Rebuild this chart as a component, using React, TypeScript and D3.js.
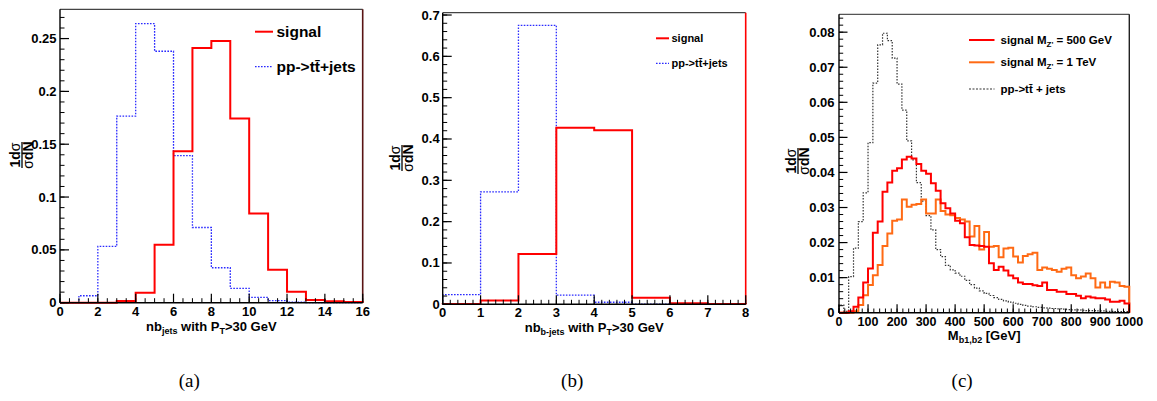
import React from "react";
import * as d3 from "d3";

// ---------- DATA ----------
// (a) number of jets with pT>30 GeV, bins of width 1 from 0 to 16
const jetsSignal = [0, 0, 0, 0.0016, 0.0095, 0.0548, 0.1434, 0.2411, 0.2477, 0.1743, 0.0845, 0.0312, 0.0104, 0.0025, 0.0013, 0.0006];
const jetsTtbar = [0, 0.0066, 0.0533, 0.1765, 0.2641, 0.238, 0.1393, 0.0712, 0.0331, 0.0136, 0.005, 0.0019, 0.0006, 0, 0, 0];
// (b) number of b-jets, bins of width 1 from 0 to 8
const bjetsSignal = [0.0005, 0.009, 0.122, 0.427, 0.421, 0.016, 0.0024, 0.001];
const bjetsTtbar = [0.0234, 0.272, 0.675, 0.022, 0.005, 0.0005, 0.0003, 0.0002];
// (c) M_b1b2, 60 bins from 0 to 1000 GeV
const massSignal500 = [
  0, 0, 0.0004, 0.0017, 0.0043, 0.0086, 0.0126, 0.0228, 0.026, 0.0345,
  0.0371, 0.0405, 0.0412, 0.0437, 0.0445, 0.044, 0.0424, 0.0405, 0.0396, 0.0369,
  0.0348, 0.0312, 0.0298, 0.0283, 0.0262, 0.0255, 0.0215, 0.0193, 0.0192, 0.019,
  0.0188, 0.0141, 0.0122, 0.0131, 0.012, 0.0106, 0.0098, 0.0086, 0.0082, 0.0082,
  0.0078, 0.0076, 0.0086, 0.0065, 0.0065, 0.006, 0.006, 0.0053, 0.0053, 0.0048,
  0.0041, 0.0046, 0.0043, 0.0041, 0.0041, 0.0038, 0.0031, 0.0031, 0.0034, 0.0026,
];
const massSignal1000 = [
  0, 0, 0, 0.0004, 0.0022, 0.005, 0.0079, 0.0107, 0.0136, 0.019,
  0.0226, 0.0262, 0.0266, 0.0323, 0.0302, 0.0308, 0.031, 0.0323, 0.0283, 0.0283,
  0.0323, 0.029, 0.028, 0.0278, 0.027, 0.0266, 0.026, 0.0217, 0.0247, 0.018,
  0.023, 0.0188, 0.019, 0.0158, 0.0183, 0.0185, 0.016, 0.0143, 0.0162, 0.0167,
  0.0171, 0.0122, 0.0129, 0.0125, 0.0122, 0.0117, 0.0125, 0.0129, 0.0107, 0.0098,
  0.0103, 0.0112, 0.0098, 0.0072, 0.0086, 0.0072, 0.0088, 0.0086, 0.0076, 0.0074,
];
const massTtbar = [
  0.0022, 0.0004, 0.0103, 0.0184, 0.026, 0.0342, 0.0485, 0.0655, 0.0764, 0.0797,
  0.0776, 0.0726, 0.0652, 0.0578, 0.049, 0.0436, 0.0371, 0.0318, 0.0277, 0.0236,
  0.018, 0.016, 0.0135, 0.0122, 0.0113, 0.0104, 0.0092, 0.008, 0.007, 0.0062,
  0.0055, 0.0049, 0.0043, 0.0038, 0.0034, 0.003, 0.0027, 0.0024, 0.0021, 0.0019,
  0.0017, 0.0015, 0.0014, 0.0013, 0.0012, 0.0011, 0.001, 0.0009, 0.0008, 0.0008,
  0.0007, 0.0006, 0.0006, 0.0005, 0.0005, 0.0004, 0.0004, 0.0003, 0.0003, 0.0003,
];

// tick values / labels
const aXTicks = [0, 2, 4, 6, 8, 10, 12, 14, 16];
const aXLabels = ["0", "2", "4", "6", "8", "10", "12", "14", "16"];
const aYTicks = [0, 0.05, 0.1, 0.15, 0.2, 0.25];
const aYLabels = ["0", "0.05", "0.1", "0.15", "0.2", "0.25"];
const bXTicks = [0, 1, 2, 3, 4, 5, 6, 7, 8];
const bXLabels = ["0", "1", "2", "3", "4", "5", "6", "7", "8"];
const bYTicks = [0, 0.1, 0.2, 0.3, 0.4, 0.5, 0.6, 0.7];
const bYLabels = ["0", "0.1", "0.2", "0.3", "0.4", "0.5", "0.6", "0.7"];
const cXTicks = [0, 100, 200, 300, 400, 500, 600, 700, 800, 900, 1000];
const cXLabels = ["0", "100", "200", "300", "400", "500", "600", "700", "800", "900", "1000"];
const cYTicks = [0, 0.01, 0.02, 0.03, 0.04, 0.05, 0.06, 0.07, 0.08];
const cYLabels = ["0", "0.01", "0.02", "0.03", "0.04", "0.05", "0.06", "0.07", "0.08"];

const captions = ["(a)", "(b)", "(c)"];

// text segments: [text, isSubscript]
const aXTitle: [string, boolean][] = [["nb", false], ["jets", true], [" with P", false], ["T", true], [">30 GeV", false]];
const bXTitle: [string, boolean][] = [["nb", false], ["b-jets", true], [" with P", false], ["T", true], [">30 GeV", false]];
const cXTitle: [string, boolean][] = [["M", false], ["b1,b2", true], [" [GeV]", false]];
const legA: [string, boolean][][] = [[["signal", false]], [["pp->tt\u0304+jets", false]]];
const legC: [string, boolean][][] = [
  [["signal M", false], ["Z'", true], [" = 500 GeV", false]],
  [["signal M", false], ["Z'", true], [" = 1 TeV", false]],
  [["pp->tt\u0304 + jets", false]],
];

// ---------- STYLE ----------
const FONT = "'Liberation Sans', Arial, Helvetica, sans-serif";
const RED = "#ff0000";
const BLUE = "#2a2aff";
const ORANGE = "#ff6a14";
const GREY = "#333333";

function Rich({ segs, subSize, shift = 3 }: { segs: [string, boolean][]; subSize: number; shift?: number }) {
  let prevSub = false;
  return (
    <>
      {segs.map(([t, isSub], i) => {
        let dy = 0;
        if (isSub && !prevSub) dy = shift;
        if (!isSub && prevSub) dy = -shift;
        prevSub = isSub;
        return (
          <tspan key={i} dy={dy || undefined} fontSize={isSub ? subSize : undefined}>
            {t}
          </tspan>
        );
      })}
    </>
  );
}

function Hist({ x, y, x0, x1, s }: any) {
  const n = s.values.length;
  const bw = (x1 - x0) / n;
  const pts: [number, number][] = [[x0, 0]];
  s.values.forEach((v: number, i: number) => pts.push([x0 + i * bw, v]));
  pts.push([x1, s.values[n - 1]]);
  pts.push([x1, 0]);
  const line = d3
    .line<[number, number]>()
    .x((d) => x(d[0]))
    .y((d) => y(d[1]))
    .curve(d3.curveStepAfter);
  return (
    <path
      d={line(pts) || ""}
      fill="none"
      stroke={s.color}
      strokeWidth={s.width}
      strokeDasharray={s.dash}
      strokeLinejoin="miter"
    />
  );
}

function Panel({ p }: any) {
  const x = d3.scaleLinear().domain([p.xMin, p.xMax]).range([p.left, p.right]);
  const y = d3.scaleLinear().domain([0, p.yMax]).range([p.bottom, p.top]);
  const xMinor = d3.range(p.xMin, p.xMax + 1e-9, p.xMinorStep);
  const yMinor = d3.range(0, p.yMax, p.yMinorStep);
  return (
    <g>
      {/* frame */}
      <line x1={p.left} x2={p.right} y1={p.top} y2={p.top} stroke={p.topColor} strokeWidth={1.2} />
      <line x1={p.right} x2={p.right} y1={p.top} y2={p.bottom} stroke={p.rightColor} strokeWidth={p.rightWidth} />
      {p.series.map((s: any, i: number) => (
        <Hist key={i} x={x} y={y} x0={p.xMin} x1={p.xMax} s={s} />
      ))}
      <line x1={p.left} x2={p.left} y1={p.top} y2={p.bottom} stroke="#000" strokeWidth={1.4} />
      <line x1={p.left} x2={p.right} y1={p.bottom} y2={p.bottom} stroke="#000" strokeWidth={1.4} />
      {/* minor ticks */}
      {xMinor.map((v: number, i: number) => (
        <line key={"xm" + i} x1={x(v)} x2={x(v)} y1={p.bottom} y2={p.bottom - p.minorLen} stroke="#000" strokeWidth={1} />
      ))}
      {yMinor.map((v: number, i: number) => (
        <line key={"ym" + i} x1={p.left} x2={p.left + p.minorLen} y1={y(v)} y2={y(v)} stroke="#000" strokeWidth={1} />
      ))}
      {p.xTicks.map((v: number, i: number) => (
        <g key={"xt" + i}>
          <line x1={x(v)} x2={x(v)} y1={p.bottom} y2={p.bottom - p.majorLen} stroke="#000" strokeWidth={1.2} />
          <text x={x(v)} y={p.bottom + p.xLabelOff} textAnchor="middle" fontFamily={FONT} fontWeight="bold" fontSize={p.xLabelSize}>
            {p.xLabels[i]}
          </text>
        </g>
      ))}
      {p.yTicks.map((v: number, i: number) => (
        <g key={"yt" + i}>
          <line x1={p.left} x2={p.left + p.majorLen} y1={y(v)} y2={y(v)} stroke="#000" strokeWidth={1.2} />
          <text x={p.left - p.yLabelGap} y={y(v) + 4.5} textAnchor="end" fontFamily={FONT} fontWeight="bold" fontSize={p.yLabelSize}>
            {p.yLabels[i]}
          </text>
        </g>
      ))}
      {/* x title */}
      <text x={(p.left + p.right) / 2} y={p.xTitleY} textAnchor="middle" fontFamily={FONT} fontWeight="bold" fontSize={13}>
        <Rich segs={p.xTitle} subSize={9} />
      </text>
      {/* y title: fraction 1 dσ / σ dN rotated */}
      <g transform={`translate(${p.yTitleX},${p.yTitleY}) rotate(-90)`}>
        <text x={0} y={-2} textAnchor="middle" fontFamily={FONT} fontWeight="bold" fontSize={14}>
          <tspan>1d</tspan>
          <tspan fontWeight="normal">σ</tspan>
        </text>
        <line x1={-13} x2={13} y1={0} y2={0} stroke="#000" strokeWidth={1.3} />
        <text x={0} y={11} textAnchor="middle" fontFamily={FONT} fontWeight="bold" fontSize={14}>
          <tspan fontWeight="normal">σ</tspan>
          <tspan>dN</tspan>
        </text>
      </g>
      {/* legend */}
      {p.legend.map((l: any, i: number) => (
        <g key={"lg" + i}>
          <line x1={p.legX1} x2={p.legX2} y1={p.legY[i]} y2={p.legY[i]} stroke={l.color} strokeWidth={l.width} strokeDasharray={l.dash} />
          <text x={p.legTextX} y={p.legY[i] + p.legSize * 0.36} fontFamily={FONT} fontWeight="bold" fontSize={p.legSize}>
            <Rich segs={l.label} subSize={8} shift={2.5} />
          </text>
        </g>
      ))}
      <text x={(p.left + p.right) / 2 - 22} y={387} textAnchor="middle" fontFamily="'Liberation Serif', 'DejaVu Serif', serif" fontSize={19}>
        {p.caption}
      </text>
    </g>
  );
}

export default function App() {
  const panels = [
    {
      left: 60, right: 362.7, top: 9.3, bottom: 302.7, xMin: 0, xMax: 16, yMax: 0.2777,
      xMinorStep: 0.5, yMinorStep: 0.01, majorLen: 9, minorLen: 4.5,
      xTicks: aXTicks, xLabels: aXLabels, yTicks: aYTicks, yLabels: aYLabels,
      xLabelSize: 13, yLabelSize: 13, yLabelGap: 3.5, xLabelOff: 13.5,
      topColor: "#444", rightColor: "#5a1414", rightWidth: 1.6,
      series: [
        { values: jetsTtbar, color: BLUE, width: 1.3, dash: "1.6 1.4" },
        { values: jetsSignal, color: RED, width: 2 },
      ],
      xTitle: aXTitle,
      xTitleY: 331, yTitleX: 22, yTitleY: 155,
      legend: [
        { label: legA[0], color: RED, width: 2 },
        { label: legA[1], color: BLUE, width: 1.3, dash: "1.6 1.4" },
      ],
      legX1: 255, legX2: 273, legTextX: 276.5, legY: [31.7, 66.7], legSize: 15.5,
      caption: captions[0],
    },
    {
      left: 442.7, right: 745.7, top: 12.7, bottom: 304.3, xMin: 0, xMax: 8, yMax: 0.7056,
      xMinorStep: 0.2, yMinorStep: 0.02, majorLen: 9, minorLen: 4.5,
      xTicks: bXTicks, xLabels: bXLabels, yTicks: bYTicks, yLabels: bYLabels,
      xLabelSize: 13, yLabelSize: 13, yLabelGap: 3, xLabelOff: 12.3,
      topColor: "#444", rightColor: RED, rightWidth: 1.6,
      series: [
        { values: bjetsTtbar, color: BLUE, width: 1.3, dash: "1.6 1.4" },
        { values: bjetsSignal, color: RED, width: 2 },
      ],
      xTitle: bXTitle,
      xTitleY: 332, yTitleX: 402, yTitleY: 158,
      legend: [
        { label: legA[0], color: RED, width: 2 },
        { label: legA[1], color: BLUE, width: 1.3, dash: "1.6 1.4" },
      ],
      legX1: 656, legX2: 669, legTextX: 671.5, legY: [38.3, 63.3], legSize: 11,
      caption: captions[1],
    },
    {
      left: 839, right: 1129.3, top: 14.3, bottom: 312.7, xMin: 0, xMax: 1000, yMax: 0.0851,
      xMinorStep: 20, yMinorStep: 0.002, majorLen: 8.5, minorLen: 4.2,
      xTicks: cXTicks, xLabels: cXLabels, yTicks: cYTicks, yLabels: cYLabels,
      xLabelSize: 12.5, yLabelSize: 13, yLabelGap: 4.5, xLabelOff: 13.5,
      topColor: "#555", rightColor: "#222", rightWidth: 1.4,
      series: [
        { values: massTtbar, color: GREY, width: 1.2, dash: "1.5 1.5" },
        { values: massSignal1000, color: ORANGE, width: 2 },
        { values: massSignal500, color: RED, width: 2 },
      ],
      xTitle: cXTitle,
      xTitleY: 340, yTitleX: 798, yTitleY: 161,
      legend: [
        { label: legC[0], color: RED, width: 2 },
        { label: legC[1], color: ORANGE, width: 2 },
        { label: legC[2], color: GREY, width: 1.2, dash: "2 1.5" },
      ],
      legX1: 969, legX2: 994.5, legTextX: 1000.5, legY: [40, 62.3, 89], legSize: 11.5,
      caption: captions[2],
    },
  ];
  return (
    <div style={{ position: "absolute", left: 0, top: 0 }}>
      <svg width={1157} height={401} viewBox="0 0 1157 401" style={{ display: "block", background: "#fff" }}>
        <rect x={0} y={0} width={1157} height={401} fill="#fff" />
        {panels.map((p, i) => (
          <Panel key={i} p={p} />
        ))}
      </svg>
    </div>
  );
}
